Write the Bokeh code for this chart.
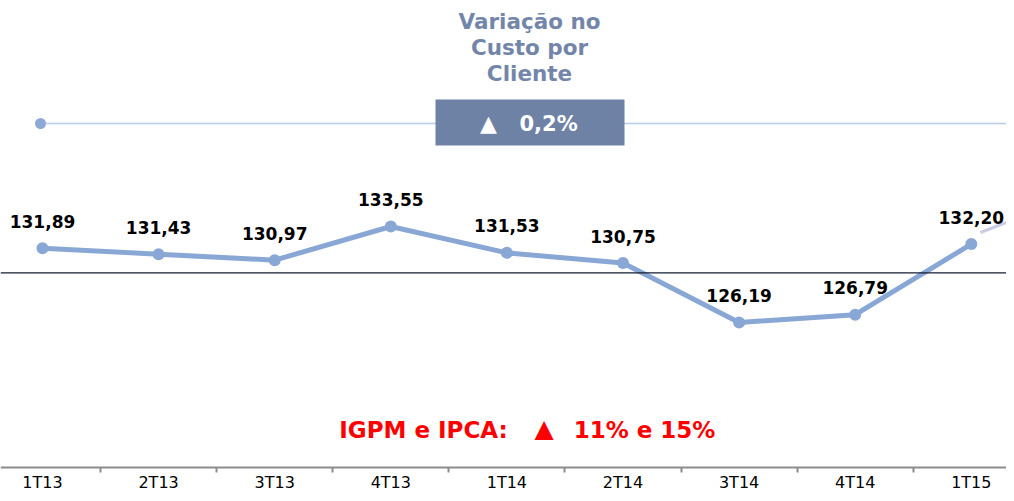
from bokeh.plotting import figure
from bokeh.models import Range1d, FixedTicker, ColumnDataSource, Span
from bokeh.embed import file_html
from bokeh.resources import INLINE
from bokeh.core.properties import value

# ---------------- data ----------------
quarters = ["1T13", "2T13", "3T13", "4T13", "1T14", "2T14", "3T14", "4T14", "1T15"]
cost = [131.89, 131.43, 130.97, 133.55, 131.53, 130.75, 126.19, 126.79, 132.20]
reference_level = 130.0
title_lines = ["Variação no", "Custo por", "Cliente"]
variation_arrow = "▲"
variation_text = "0,2%"
inflation_label = "IGPM e IPCA:"
inflation_arrow = "▲"
inflation_values = "11% e 15%"

# ---------------- layout helpers (reference pixel -> data) ----------------
W, H = 1006, 493
X0, DX = 42.0, 116.1          # pixel centre of first category, spacing
Y_A, V_A = 226.0, 133.55      # pixel / value pair
PX_PER_UNIT = 13.043


def xd(px):
    return (px - X0) / DX


def yd(py):
    return V_A - (py - Y_A) / PX_PER_UNIT


FONT = "DejaVu Sans"

p = figure(width=W, height=H, output_backend="svg", toolbar_location=None,
           x_range=Range1d(xd(0), xd(W)),
           y_range=Range1d(yd(H), yd(0)),
           min_border_left=0, min_border_right=0, min_border_top=0,
           min_border_bottom=0)
p.outline_line_color = None
p.grid.visible = False
p.yaxis.visible = False
p.background_fill_color = "white"
p.border_fill_color = "white"

# x axis: labels at category centres, tick marks between categories
idx = list(range(len(quarters)))
ax = p.xaxis[0]
ax.fixed_location = yd(467)
ax.ticker = FixedTicker(ticks=idx, minor_ticks=[i - 0.5 for i in range(len(quarters) + 1)])
ax.major_label_overrides = {i: q for i, q in enumerate(quarters)}
ax.major_tick_out = 0
ax.major_tick_in = 0
ax.minor_tick_out = 5
ax.minor_tick_in = 0
ax.minor_tick_line_color = "#8C8C8C"
ax.minor_tick_line_width = 2
ax.axis_line_color = "#8C8C8C"
ax.axis_line_width = 2
ax.major_label_standoff = 0
ax.major_label_text_font = FONT
ax.major_label_text_font_size = "16px"
ax.major_label_text_color = "#000000"

# reference level line
p.add_layout(Span(location=reference_level, dimension="width",
                  line_color="#141C30", line_width=1.2))

# top connector line with end dots
conn_x = [xd(40), xd(1013)]
conn_y = [yd(123), yd(123)]
p.line(conn_x, conn_y, line_color="#B9CBE6", line_width=1.5)
p.scatter(conn_x, conn_y, size=11, fill_color="#8DAAD6", line_color=None)

# callout line near last label
p.line([xd(980), xd(1016)], [yd(232), yd(218)], line_color="#C8CCE2", line_width=3)

# main series
src = ColumnDataSource(dict(x=idx, y=cost,
                            lbl=[f"{v:.2f}".replace(".", ",") for v in cost]))
p.line("x", "y", source=src, line_color="#88A7D5", line_width=5)
p.scatter("x", "y", source=src, size=12, fill_color="#88A7D5", line_color=None)
p.text("x", "y", text="lbl", source=src, y_offset=-27,
       text_font=value(FONT), text_font_size="17px", text_font_style="bold",
       text_color="#000000", text_align="center", text_baseline="middle")

# title
p.text([xd(529)] * 3, [yd(21), yd(47), yd(73)], text=title_lines,
       text_font=value(FONT), text_font_size="21.5px", text_font_style="bold",
       text_color="#7386A9", text_align="center", text_baseline="middle")

# variation box
p.quad(left=[xd(435)], right=[xd(624)], top=[yd(99)], bottom=[yd(145)],
       fill_color="#6E82A6", line_color=None)
p.text([xd(488)], [yd(123)], text=[variation_arrow],
       text_font=value(FONT), text_font_size="22px",
       text_color="white", text_align="center", text_baseline="middle")
p.text([xd(519)], [yd(123)], text=[variation_text],
       text_font=value(FONT), text_font_size="21px", text_font_style="bold",
       text_color="white", text_align="left", text_baseline="middle")

# inflation note
note_style = dict(text_font=value(FONT), text_font_size="23px", text_font_style="bold",
                  text_color="#FF0000", text_baseline="middle", text_align="center")
p.text([xd(423)], [yd(429)], text=[inflation_label], **note_style)
p.text([xd(543.5)], [yd(428)], text=[inflation_arrow], text_align="center",
       text_font=value(FONT), text_font_size="25px", text_color="#FF0000",
       text_baseline="middle")
p.text([xd(644)], [yd(429)], text=[inflation_values], **note_style)

open("out.html", "w").write(file_html(p, INLINE))
